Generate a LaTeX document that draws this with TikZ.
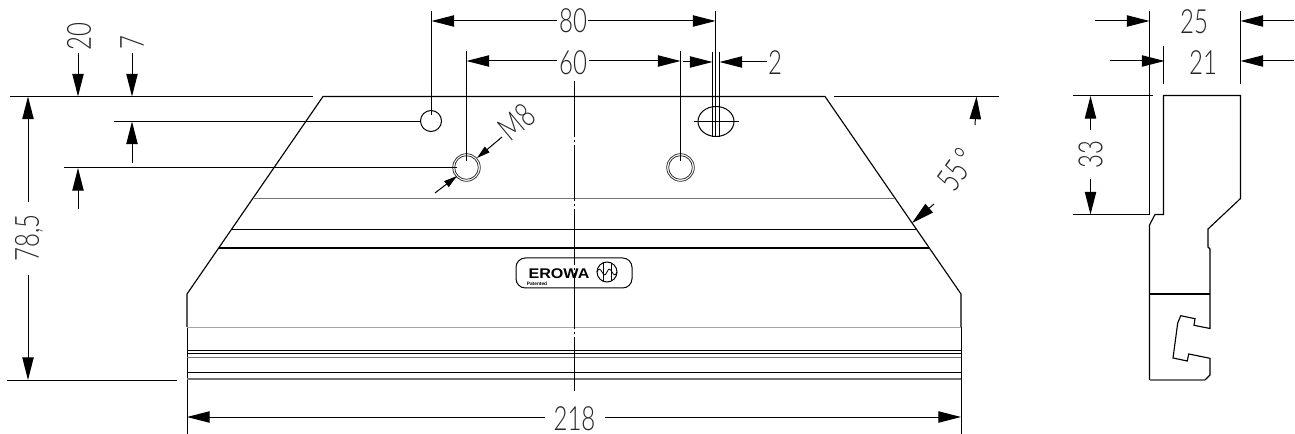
\documentclass[tikz,border=0pt]{standalone}
\usepackage{fontspec}
\newfontfamily\dimfont[UprightFont=* Light]{Lato}
\setsansfont{Liberation Sans}
\usetikzlibrary{arrows.meta}
\tikzset{
  bodyline/.style={black, line width=0.85pt},
  greyline/.style={black!55, line width=1pt},
  dimline/.style={black, line width=0.75pt},
  holeline/.style={black!85, line width=0.55pt},
  dimtext/.style={inner sep=0pt, font=\dimfont\fontsize{25}{25}\selectfont, xscale=0.72, black!85},
  smalltip/.style={>={Triangle[length=10pt,width=5.5pt]}},
}
\begin{document}
\begin{tikzpicture}[x=0.75pt, y=-0.75pt, >={Triangle[length=17pt,width=8.5pt]}]
  \useasboundingbox (0,0) rectangle (1295,434);

  % Vista frontal
  \draw[bodyline] (187,327) -- (187,294) -- (323,96.5) -- (825,96.5) -- (961,294) -- (961,327);
  \draw[dimline] (187,327) -- (187,434);
  \draw[dimline] (961,327) -- (961,434);
  % Lineas horizontales
  \draw[greyline] (253,198.5) -- (895,198.5);
  \draw[dimline] (231.5,229.5) -- (916.5,229.5);
  \draw[black, line width=1.3pt] (219,248) -- (929,248);
  \draw[greyline, black!35, line width=1.1pt] (187,327.7) -- (961,327.7);
  \draw[dimline] (187,350.7) -- (961,350.7);
  \draw[dimline] (187,353.6) -- (961,353.6);
  \draw[greyline] (187,357.3) -- (961,357.3);
  \draw[dimline] (187,372.4) -- (961,372.4);
  \draw[greyline, line width=1.3pt] (187,378.8) -- (961,378.8);
  % Eje
  \draw[dimline, dash pattern=on 42pt off 2pt on 2pt off 2pt] (574.5,81) -- (574.5,391);

  % Agujeros
  \draw[dimline] (431,121) circle (10.5);
  \draw[holeline] (466.5,167.5) circle (13.8);
  \draw[holeline] (466.5,167.5) circle (11.8);
  \draw[holeline] (680.5,167.5) circle (13.8);
  \draw[holeline] (680.5,167.5) circle (11.8);
  \draw[dimline] (716,121.5) ellipse (18 and 15);
  \draw[dimline] (694,121.5) -- (739,121.5);

  % Cota 80
  \draw[dimline] (431.5,11) -- (431.5,115);
  \draw[dimline] (715.5,11) -- (715.5,137);
  \draw[dimline, ->] (557,21) -- (431.5,21);
  \draw[dimline, ->] (588,21) -- (715.5,21);
  \node[dimtext] (dimeighty) at (573,21) {80};
  % Cota 60
  \draw[dimline] (466.5,51) -- (466.5,161);
  \draw[dimline] (680.5,51) -- (680.5,161);
  \draw[dimline, ->] (557,61) -- (466.5,61);
  \draw[dimline, ->] (589,61) -- (680.5,61);
  \node[dimtext] (dimsixty) at (573,63) {60};
  % Cota 2
  \draw[dimline] (712.5,52) -- (712.5,137);
  \draw[dimline] (719.5,52) -- (719.5,137);
  \draw[dimline, ->] (683,62) -- (712.5,62);
  \draw[dimline, ->] (767,62) -- (719.5,62);
  \node[dimtext] (dimtwo) at (775,63) {2};

  % Lineas de referencia izquierda
  \draw[dimline] (10,96.5) -- (313,96.5);
  \draw[dimline] (834,96.5) -- (999,96.5);
  \draw[dimline] (114,121.5) -- (421,121.5);
  \draw[dimline] (64,168) -- (457,168);
  \draw[dimline] (7,380) -- (177,380);
  % Cota 20
  \draw[dimline, ->] (78,53) -- (78,96.5);
  \draw[dimline, ->] (78,209) -- (78,168);
  \node[rotate=90, dimtext] (dimtwenty) at (79,37) {20};
  % Cota 7
  \draw[dimline, ->] (132,53) -- (132,96.5);
  \draw[dimline, ->] (132,163) -- (132,121.5);
  \node[rotate=90, dimtext] (dimseven) at (132,43) {7};
  % Cota 78,5
  \draw[dimline, ->] (28,202) -- (28,96.5);
  \draw[dimline, ->] (28,275) -- (28,380);
  \node[rotate=90, dimtext] (dimheight) at (29,238) {78,5};
  % Cota 218
  \draw[dimline, ->] (545,417) -- (187,417);
  \draw[dimline, ->] (605,417) -- (961,417);
  \node[dimtext] (dimwidth) at (574.5,419) {218};
  % Rosca M8
  \draw[dimline, smalltip, ->] (502,137) -- (477,158);
  \draw[dimline, smalltip, ->] (435,193) -- (457,176);
  \node[rotate=40, dimtext] (dimthread) at (517,122) {M8};
  % Angulo 55
  \draw[dimline, ->] (975,125) -- (976.5,96.5);
  \draw[dimline, ->] (934,204) -- (912,223);
  \node[rotate=55, dimtext] (dimangle) at (957,170) {55\,°};

  % Logotipo
  \draw[dimline] (516,258) [rounded corners=7pt] rectangle (632,288);
  \node[inner sep=0pt, font=\sffamily\bfseries\fontsize{10.5}{10}\selectfont, xscale=1.15] (logoname) at (559,273.5) {EROWA};
  \node[inner sep=0pt, font=\sffamily\bfseries\fontsize{3.6}{4}\selectfont] (logosub) at (537,284) {Patented};
  \draw[dimline] (607,272) circle (10);
  \draw[dimline, line width=0.6pt] (597,272) .. controls (601,262) and (603,282) .. (607,272) .. controls (611,262) and (613,282) .. (617,272);
  \draw[dimline, line width=0.6pt] (603,263) -- (603,281);
  \draw[dimline, line width=0.6pt] (611,263) -- (611,281);

  % Vista lateral
  \draw[bodyline] (1149.5,11) -- (1149.5,214.5);
  \draw[bodyline] (1163.5,46) -- (1163.5,84);
  \draw[bodyline] (1240.5,11) -- (1240.5,84);
  \draw[bodyline] (1149.5,380) -- (1149.5,225) -- (1155,214.5) -- (1163.5,214.5) -- (1163.5,95.5)
    -- (1240.5,95.5) -- (1240.5,198.5) -- (1208,229) -- (1208,247) -- (1210,249) -- (1210,328.5)
    -- (1194,325.3) -- (1195,318.7) -- (1180.7,315.7) -- (1177.7,323) -- (1173,358) -- (1187.3,361)
    -- (1188.7,354) -- (1210,358.3) -- (1210,375) -- (1205,380);
  \draw[greyline] (1205,380) -- (1149.5,380);
  \draw[bodyline] (1149.5,294) -- (1210,294);
  \draw[dimline] (1073,95.5) -- (1153,95.5);
  \draw[dimline] (1073,214.5) -- (1149.5,214.5);
  % Cota 25
  \draw[dimline, ->] (1095,21) -- (1149.5,21);
  \draw[dimline, ->] (1294,21) -- (1240.5,21);
  \node[dimtext] (dimtwentyfive) at (1194,22) {25};
  % Cota 21
  \draw[dimline, ->] (1110,61) -- (1164.5,61);
  \draw[dimline, ->] (1294,61) -- (1240.5,61);
  \node[dimtext] (dimtwentyone) at (1203,63) {21};
  % Cota 33
  \draw[dimline, ->] (1090.5,130) -- (1090.5,96);
  \draw[dimline, ->] (1090.5,179) -- (1090.5,214.5);
  \node[rotate=90, dimtext] (dimthirtythree) at (1090.5,155) {33};
\end{tikzpicture}
\end{document}
